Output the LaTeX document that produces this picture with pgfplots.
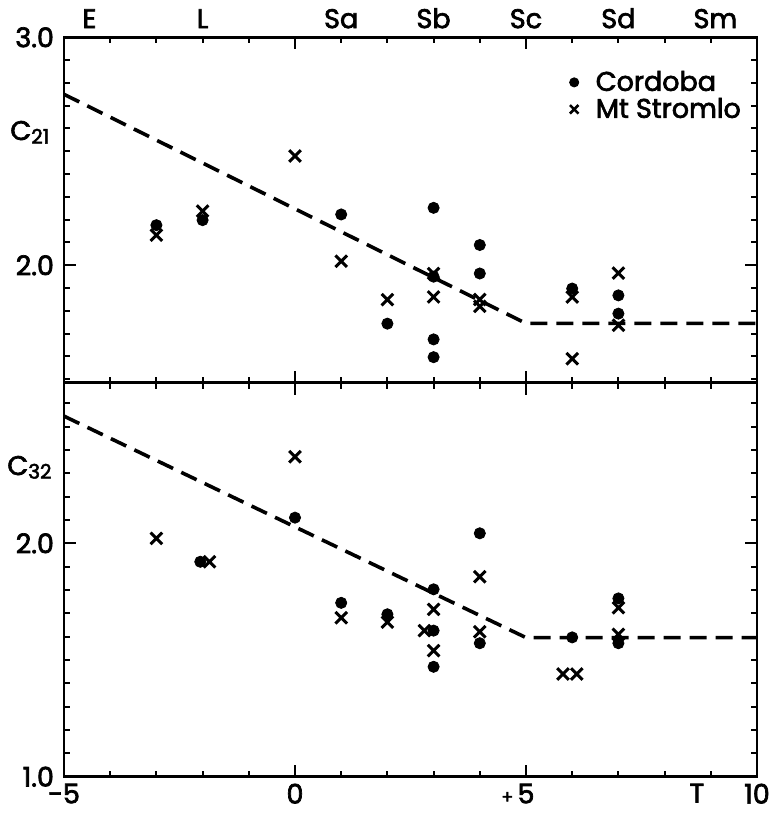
\documentclass[border=0pt]{standalone}
\usepackage{pgfplots}
\pgfplotsset{compat=1.18}
\usepackage{fontspec}
\setmainfont{Poppins}[FakeBold=2.5]
\newcommand\lab{\fontsize{13.5pt}{16pt}\selectfont}
\newcommand\sub{\fontsize{10pt}{11pt}\selectfont}

\pgfplotsset{
  panel/.style={
    anchor=north west, scale only axis, width=346.5pt,
    xmin=-5, xmax=10,
    xtick={-5,0,5,10}, minor xtick={-4,-3,-2,-1,1,2,3,4,6,7,8,9},
    tick align=inside, tick pos=both,
    major tick length=6pt, minor tick length=3pt,
    every tick/.style={black, line width=1pt},
    axis line style={black, line width=1.3pt},
    tick label style={font=\lab},
    yticklabel style={xshift=-1.5pt},
    clip=false,
  },
  cord/.style={only marks, mark=*, mark size=2.8pt, black},
  strom/.style={only marks, mark=x, mark size=4.1pt, black, mark options={line width=1.5pt}},
  fit/.style={black, line width=1.8pt, dash pattern=on 8.5pt off 4.5pt},
}
\tikzset{typelab/.style={anchor=base, font=\lab, inner sep=0pt, yshift=4.6pt}}

\begin{document}
\begin{tikzpicture}
\path[use as bounding box] (0pt,0pt) rectangle (385pt,-407pt);

% upper panel: C21 against morphological type T
\begin{axis}[panel, at={(32pt,-18.65pt)}, height=172.7pt,
  ymin=1.485, ymax=3.0,
  xticklabels={},
  ytick={2,3}, yticklabels={2.0,3.0},
  minor ytick={1.5,1.6,1.7,1.8,1.9,2.1,2.2,2.3,2.4,2.5,2.6,2.7,2.8,2.9},
  legend style={at={(0.729,0.9155)}, anchor=north west, draw=none, fill=none,
    font=\lab, row sep=-2pt, column sep=6.5pt, inner sep=0pt},
  legend cell align=left,
]
\addlegendimage{only marks, mark=*, mark size=2.3pt, black}
\addlegendimage{only marks, mark=x, mark size=3pt, black, mark options={line width=1.3pt}}
\legend{Cordoba, Mt Stromlo}

\addplot[fit] coordinates {(-5,2.75) (5,1.745) (10,1.745)};

\addplot[cord] coordinates {
  (-3,2.176) (-2,2.198) (1,2.223) (2,1.744)
  (3,2.252) (3,1.950) (3,1.675) (3,1.597)
  (4,2.089) (4,1.964) (6,1.898) (7,1.868) (7,1.788)
};
\addplot[strom] coordinates {
  (-3,2.132) (-2,2.238) (0,2.479) (1,2.018) (2,1.849)
  (3,1.964) (3,1.861) (4,1.850) (4,1.820)
  (6,1.861) (6,1.590) (7,1.966) (7,1.737)
};

% morphological types along the top
\node[typelab] at (axis cs:-4.45,3.0) {E};
\node[typelab] at (axis cs:-2,3.0) {L};
\node[typelab] at (axis cs:1,3.0) {Sa};
\node[typelab] at (axis cs:3,3.0) {Sb};
\node[typelab] at (axis cs:5,3.0) {Sc};
\node[typelab] at (axis cs:7,3.0) {Sd};
\node[typelab] at (axis cs:9.1,3.0) {Sm};
\end{axis}

% lower panel: C32 against morphological type T
\begin{axis}[panel, at={(32pt,-191.5pt)}, height=196.85pt,
  ymin=1.0, ymax=2.687,
  xticklabels={-5,0,{\makebox[0pt][r]{\fontsize{9pt}{9pt}\selectfont+\hspace{2pt}}5\hspace{5pt}},10},
  ytick={1,2}, yticklabels={1.0,2.0},
  minor ytick={1.1,1.2,1.3,1.4,1.5,1.6,1.7,1.8,1.9,2.1,2.2,2.3,2.4,2.5,2.6},
]
\addplot[fit] coordinates {(-5,2.545) (5,1.596) (10,1.596)};

\addplot[cord] coordinates {
  (-2.05,1.921) (0,2.110) (1,1.745) (2,1.696)
  (3,1.803) (3,1.626) (3,1.471)
  (4,2.043) (4,1.572) (6,1.597) (7,1.764) (7,1.572)
};
\addplot[strom] coordinates {
  (-3,2.021) (-1.85,1.921) (0,2.371) (1,1.681) (2,1.662)
  (3,1.717) (2.8,1.626) (3,1.540)
  (4,1.857) (4,1.621) (5.8,1.440) (6.1,1.440)
  (7,1.724) (7,1.610)
};

\node[anchor=north, font=\lab, inner sep=0.333em] at (axis cs:8.7,1.0) {T};
\end{axis}

\node[anchor=base west, font=\lab, inner sep=0pt] at (5pt,-70pt) {C\raisebox{-1.8pt}{\sub 21}};
\node[anchor=base west, font=\lab, inner sep=0pt] at (3.5pt,-237.5pt) {C\raisebox{-1.8pt}{\sub 32}};
\end{tikzpicture}
\end{document}
